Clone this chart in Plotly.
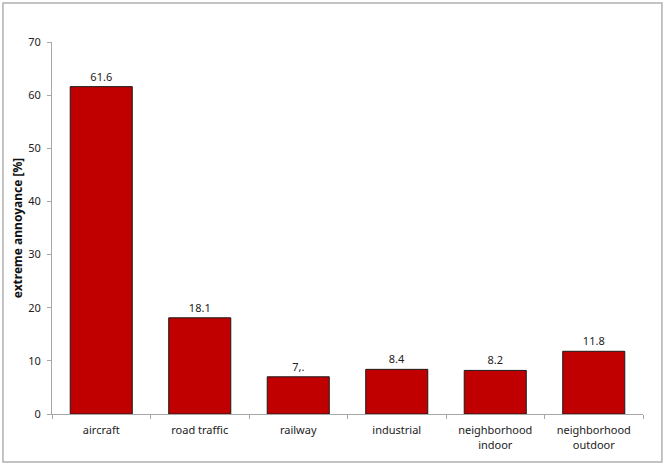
import plotly.graph_objects as go

categories = ["aircraft", "road traffic", "railway", "industrial",
              "neighborhood<br>indoor", "neighborhood<br>outdoor"]
values = [61.6, 18.1, 7.0, 8.4, 8.2, 11.8]
value_labels = ["61.6", "18.1", "7,.", "8.4", "8.2", "11.8"]
y_ticks = [0, 10, 20, 30, 40, 50, 60, 70]

fig = go.Figure(go.Bar(
    x=categories, y=values,
    text=value_labels, textposition="outside", cliponaxis=False,
    textfont=dict(size=11, color="#222222"),
    marker=dict(color="#C00000", line=dict(color="#1a1a1a", width=1)),
))

fig.update_layout(
    width=666, height=465,
    margin=dict(l=52, r=23, t=42, b=51),
    plot_bgcolor="white", paper_bgcolor="white",
    font=dict(family="Noto Sans, Open Sans, sans-serif", size=11, color="#222222"),
    bargap=0.37,
    showlegend=False,
    # outer grey frame round the whole chart
    shapes=[dict(type="rect", xref="paper", yref="paper",
                 x0=-0.083, x1=1.032, y0=-0.129, y1=1.105,
                 line=dict(color="#b0b0b0", width=1.5), layer="below")],
)

fig.update_yaxes(
    range=[0, 70], tickvals=y_ticks, showgrid=False, zeroline=False,
    showline=True, linecolor="#a6a6a6", linewidth=1,
    ticks="outside", ticklen=4, tickcolor="#a6a6a6",
    tickfont=dict(size=11), ticklabelstandoff=4,
    title=dict(text="<b>extreme annoyance [%]</b>", font=dict(size=12, color="#111111"),
               standoff=3),
)
fig.update_xaxes(
    showgrid=False, showline=True, linecolor="#a6a6a6", linewidth=1,
    ticks="outside", ticklen=4, tickcolor="#a6a6a6", tickson="boundaries",
    tickfont=dict(size=11), ticklabelstandoff=6,
)

# drop the default page margin so the figure sits at the window corner
fig.write_html("out.html", config={"displayModeBar": False},
               post_script="document.body.style.margin='0';")
